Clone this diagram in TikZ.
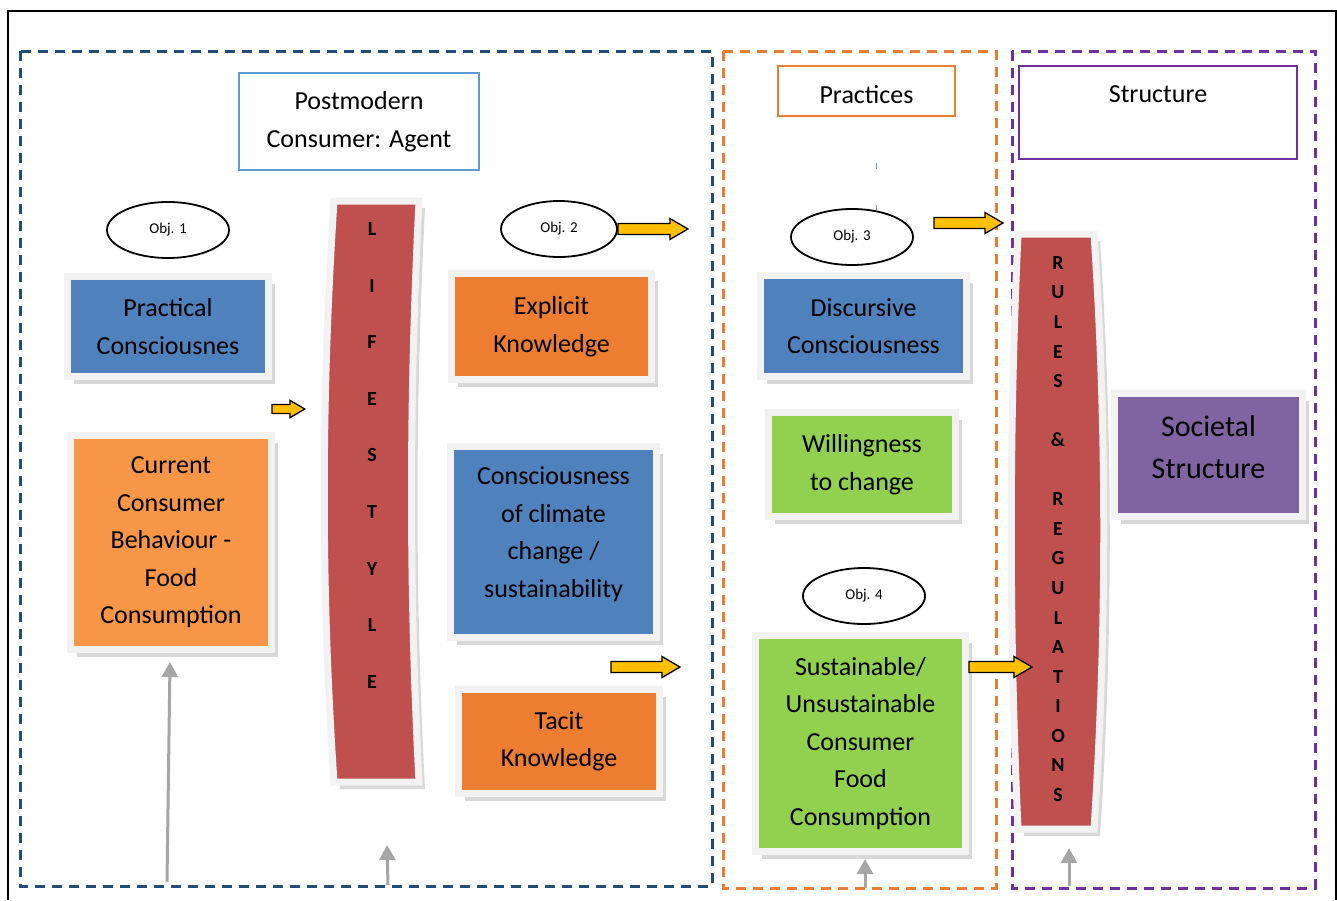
\documentclass[tikz,border=0pt]{standalone}
\usepackage{fontspec}
\setmainfont{Carlito}
\usepackage{tikz}
\usetikzlibrary{positioning,shapes.geometric,shadows,arrows.meta}
\definecolor{figBleuTrait}{RGB}{31,78,121}
\definecolor{figOrangeTrait}{RGB}{237,125,49}
\definecolor{figVioletTrait}{RGB}{112,48,160}
\definecolor{figBleuTitre}{RGB}{91,155,213}
\definecolor{figBleu}{RGB}{79,129,189}
\definecolor{figOrange}{RGB}{237,125,49}
\definecolor{figOrangeClair}{RGB}{247,150,70}
\definecolor{figVert}{RGB}{146,208,80}
\definecolor{figViolet}{RGB}{128,100,162}
\definecolor{figRouge}{RGB}{192,80,77}
\definecolor{figCadre}{RGB}{242,242,242}
\definecolor{figJaune}{RGB}{255,192,0}
\definecolor{figGris}{RGB}{166,166,166}
% fleche jaune pleine : point de depart, longueur
\newcommand{\flecheJaune}[3][]{%
  \draw[fleche,#1] (#2) ++(0,-5.5) -- ++(#3-18,0) -- ++(0,-5) -- ++(18,10.5)
        -- ++(-18,10.5) -- ++(0,-5) -- ++(18-#3,0) -- cycle;}

\begin{document}
\begin{tikzpicture}[
  x=1pt, y=-1pt,
  every node/.style={font=\fontsize{26}{37.5}\selectfont},
  titre/.style={draw=#1, line width=2.5pt, align=center, inner sep=0pt},
  bloc/.style={draw=figCadre, line width=7pt, fill=#1, align=center, inner sep=0pt,
               drop shadow={shadow xshift=6pt, shadow yshift=-7pt, opacity=0.22, fill=black!70}},
  barre/.style={draw=figCadre, line width=7pt, fill=figRouge,
                drop shadow={shadow xshift=6pt, shadow yshift=-7pt, opacity=0.22, fill=black!70}},
  lettres/.style={align=center, inner sep=0pt, font=\fontsize{20}{#1}\selectfont\bfseries},
  objectif/.style={ellipse, draw=black, line width=1.8pt, minimum width=122pt,
                   minimum height=56pt, inner sep=0pt, font=\fontsize{15}{18}\selectfont},
  fleche/.style={draw=black, line width=1.3pt, fill=figJaune, line join=miter},
  remontee/.style={figGris, line width=3pt, -{Triangle[length=15pt,width=16pt]}},
  zone/.style={draw=#1, line width=3pt, dash pattern=on 10pt off 7pt}
]
\useasboundingbox (0,0) rectangle (1337,900);

% ---- cadre general et trois zones en pointille ----
\draw[line width=2pt] (8,900) -- (8,11) -- (1336,11) -- (1336,900);
\draw[zone=figBleuTrait]   (20,51)   rectangle (712,886);
\draw[zone=figOrangeTrait] (723,51)  rectangle (996,888);
\draw[zone=figVioletTrait] (1012,51) rectangle (1315,888);

% ---- titres des zones ----
\node[titre=figBleuTitre, minimum width=240pt, minimum height=97pt] (agent) at (359,121.5)
     {Postmodern\\Consumer: Agent};
\node[titre=figOrangeTrait, minimum width=177pt, minimum height=50pt, text height=26pt]
     (pratiques) at (866.5,91) {Practices};
\node[titre=figVioletTrait, minimum width=278pt, minimum height=93pt] (structure) at (1158,112.5)
     {Structure\\\mbox{}};
\draw[figBleuTitre, line width=1pt] (876,163) -- (876,169);
\draw[figBleuTitre, line width=1pt] (876,205) -- (876,210);

% ---- objectifs ----
\node[objectif] (obj1) at (168,230) {Obj. 1};
\node[objectif, minimum width=116pt] (obj2) at (559,229) {Obj. 2};
\node[objectif] (obj3) at (852,237) {Obj. 3};
\node[objectif] (obj4) at (864,596) {Obj. 4};

% ---- agent : blocs ----
\node[bloc=figBleu, minimum width=201pt, minimum height=100pt] (pratique) at (168,326.5)
     {Practical\\Consciousnes};
\node[bloc=figOrangeClair, minimum width=201pt, minimum height=214pt] (actuel) at (171,542.5)
     {Current\\Consumer\\Behaviour -\\Food\\Consumption};
\node[bloc=figOrange, minimum width=200pt, minimum height=106pt] (explicite) at (551.5,326.5)
     {Explicit\\Knowledge};
\node[bloc=figBleu, minimum width=206pt, minimum height=191pt, text depth=20pt] (climat)
     at (553.5,542) {Consciousness\\of climate\\change /\\sustainability};
\node[bloc=figOrange, minimum width=201pt, minimum height=104pt] (tacite) at (559,741.5)
     {Tacit\\Knowledge};

% ---- barre lifestyle ----
\draw[barre] (334,201) .. controls (321,400) and (321,590) .. (334,782)
      -- (419,782) .. controls (409,590) and (409,400) .. (419,201) -- cycle;
\node[lettres=56.6] (lifestyle) at (372,455.5) {L\\I\\F\\E\\S\\T\\Y\\L\\E};

% ---- pratiques : blocs ----
\node[bloc=figBleu, minimum width=206pt, minimum height=101pt] (discursive) at (863.5,326)
     {Discursive\\Consciousness};
\node[bloc=figVert, minimum width=187pt, minimum height=104pt] (volonte) at (862,464.5)
     {Willingness\\to change};
\node[bloc=figVert, minimum width=210pt, minimum height=216pt] (durable) at (860.5,743.5)
     {Sustainable/\\Unsustainable\\Consumer\\Food\\Consumption};

% ---- structure : barre des regles et bloc societal ----
\draw[barre] (1018,234) .. controls (1009,430) and (1009,630) .. (1018,829)
      -- (1094,829) .. controls (1107,630) and (1107,430) .. (1094,234) -- cycle;
\node[lettres=29.56] (regles) at (1058,529)
     {R\\U\\L\\E\\S\\\mbox{}\\\&\\\mbox{}\\R\\E\\G\\U\\L\\A\\T\\I\\O\\N\\S};
\node[bloc=figViolet, minimum width=188pt, minimum height=123pt, text depth=16pt,
      font=\fontsize{30}{42}\selectfont] (societal) at (1208.5,455)
     {Societal\\Structure};

% ---- fleches jaunes ----
\coordinate (f1) at (272,409);
\coordinate (f3) at (611,667);
\coordinate (f4) at (934,223);
\coordinate (f5) at (969,667);
\flecheJaune[scale=0.82]{f1}{40}
\flecheJaune{obj2.east}{70}
\flecheJaune{f3}{69}
\flecheJaune{f4}{69}
\flecheJaune{f5}{63}

% ---- fleches grises montantes ----
\coordinate (g1) at (167,882);
\coordinate (g2) at (388,885);
\coordinate (g2h) at (387,845);
\coordinate (g3) at (865,888);
\coordinate (g4) at (1069,886);
\coordinate (g4h) at (1069,848);
\draw[remontee] (g1) -- ([xshift=-1pt,yshift=-9pt]actuel.south);
\draw[remontee] (g2) -- (g2h);
\draw[remontee] (g3) -- ([xshift=4.5pt,yshift=-4pt]durable.south);
\draw[remontee] (g4) -- (g4h);

\end{tikzpicture}
\end{document}
